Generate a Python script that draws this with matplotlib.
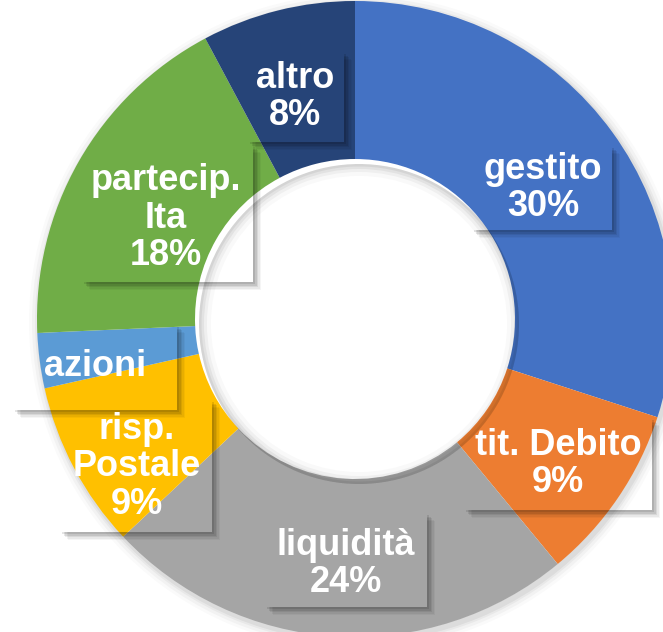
import matplotlib
matplotlib.use("Agg")
import matplotlib.pyplot as plt
from matplotlib.patches import Wedge, Polygon

# slice data, clockwise from the top
categories = ["gestito", "tit. Debito", "liquidità", "risp. Postale", "azioni", "partecip. Ita", "altro"]
values = [30.0, 9.0, 24.0, 8.5, 2.8, 17.9, 7.8]
labels = ["gestito\n30%", "tit. Debito\n9%", "liquidità\n24%", "risp.\nPostale\n9%",
          "azioni", "partecip.\nIta\n18%", "altro\n8%"]
colors = ["#4472C4", "#ED7D31", "#A5A5A5", "#FFC000", "#5B9BD5", "#70AD47", "#264478"]

# layout (pixel coords, y down)
cx, cy = 355, 319
R, r_in = 318, 160
label_pos = [(543, 188), (558, 464), (346, 564), (137, 467), (95, 366), (166, 218), (295, 97)]
boxes = [(472, 146, 612, 230), (464, 418, 652, 510), (265, 513, 427, 607), (60, 400, 212, 532),
         (13, 325, 177, 410), (82, 145, 253, 282), (248, 52, 344, 142)]

fig = plt.figure(figsize=(6.63, 6.32), dpi=100)
ax = fig.add_axes([0, 0, 1, 1])

# soft shadow around the ring
for d, a in [(10, 0.02), (7, 0.03), (4, 0.04), (2, 0.05)]:
    ax.add_patch(Wedge((cx + 2, cy + 3), R + d, 0, 360, width=d + 4, facecolor="black",
                       alpha=a, edgecolor="none", zorder=0))

ax.pie(values, colors=colors, startangle=-90, counterclock=True, center=(cx, cy), radius=R,
       wedgeprops=dict(width=R - r_in, edgecolor="none", zorder=1))
# hole shadow cast from ring
for d, a in [(12, 0.025), (8, 0.04), (5, 0.05), (2.5, 0.06)]:
    ax.add_patch(Wedge((cx + 4, cy + 5), r_in, 0, 360, width=d, facecolor="black",
                       alpha=a, edgecolor="none", zorder=2))

# label boxes: transparent with a soft drop shadow on right and bottom
for (x0, y0, x1, y1) in boxes:
    for d, a in [(8, 0.04), (6.5, 0.05), (5, 0.07), (3.5, 0.09), (2, 0.1)]:
        pts = [(x1, y0 + d), (x1 + d, y0 + d), (x1 + d, y1 + d), (x0 + d, y1 + d), (x0 + d, y1), (x1, y1)]
        ax.add_patch(Polygon(pts, closed=True, facecolor="black", alpha=a, edgecolor="none", zorder=3))

for lab, (x, y) in zip(labels, label_pos):
    ax.text(x, y, lab, ha="center", va="center", multialignment="center", color="white",
            fontsize=26, fontweight="bold", family="Liberation Sans", linespacing=1.1, zorder=5)

ax.set_xlim(0, 663)
ax.set_ylim(632, 0)
ax.set_aspect("equal")
ax.axis("off")
fig.savefig("out.png", dpi=100)
